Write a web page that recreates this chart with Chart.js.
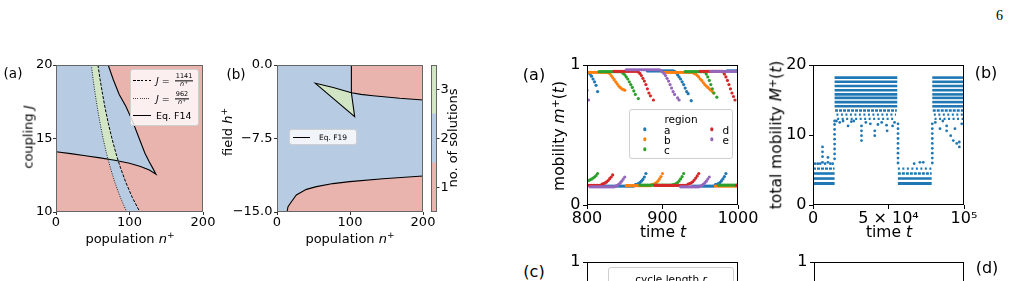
<!DOCTYPE html>
<html>
<head>
<meta charset="utf-8">
<script src="https://cdn.jsdelivr.net/npm/chart.js@4.4.1/dist/chart.umd.min.js"></script>
<style>
  html, body { margin: 0; padding: 0; }
  body { width: 1012px; height: 281px; overflow: hidden; background: #fff; position: relative;
         font-family: 'DejaVu Sans', sans-serif; color: #000; }
  canvas { position: absolute; }
  .t { position: absolute; white-space: nowrap; line-height: 1; }
  .c { transform: translate(-50%, -50%); }
  .r { transform: translate(-50%, -50%) rotate(-90deg); }
  .vm { transform: translateY(-50%); }
  sup { font-size: 0.7em; vertical-align: 0.5em; line-height: 0; }
  .leg { position: absolute; box-sizing: border-box; border: 1px solid #cfcfcf; border-radius: 3px;
         background: rgba(255,255,255,0.8); }
  .frac { display: inline-flex; flex-direction: column; align-items: center; vertical-align: middle;
          font-size: 6.5px; line-height: 1.1; margin-left: 2px; }
  .frac .num { border-bottom: 0.7px solid #000; padding: 0 1px; }
  .sw { position: absolute; height: 1px; width: 18px; }
  .dot { position: absolute; width: 3.4px; height: 3.4px; border-radius: 50%; transform: translate(-50%, -50%); }
</style>
</head>
<body>
<canvas id="cLA"></canvas>
<canvas id="cLB"></canvas>
<canvas id="cCB"></canvas>
<canvas id="cRA"></canvas>
<canvas id="cRB"></canvas>
<canvas id="cRC"></canvas>
<canvas id="cRD"></canvas>

<div class="t" style="left:996px;top:8px;font:14px 'Liberation Serif', serif">6</div>

<!-- left figure -->
<div class="t c" style="left:13px;top:74px;font-size:13.5px">(a)</div>
<div class="t c" style="left:236px;top:75px;font-size:13.5px">(b)</div>
<div class="t c" style="left:130px;top:238px;font-size:13px">population <i>n</i><sup>+</sup></div>
<div class="t r" style="left:28px;top:137px;font-size:13px">coupling <i>J</i></div>
<div class="t c" style="left:350px;top:238px;font-size:13px">population <i>n</i><sup>+</sup></div>
<div class="t r" style="left:227px;top:132px;font-size:13px">field <i>h</i><sup>+</sup></div>
<div class="t r" style="left:452px;top:138px;font-size:13px">no. of solutions</div>

<div class="leg" style="left:130px;top:69px;width:69px;height:57px">
  <div class="sw" style="left:2px;top:10px;background:repeating-linear-gradient(90deg,#000 0 2.6px,transparent 2.6px 3.9px)"></div>
  <div class="t vm" style="left:25px;top:10.5px;font-size:9.5px"><i>J</i> = <span class="frac"><span class="num">1141</span><span><i>n</i><sup>+</sup></span></span></div>
  <div class="sw" style="left:2px;top:28px;background:repeating-linear-gradient(90deg,#444 0 1px,transparent 1px 2.2px)"></div>
  <div class="t vm" style="left:25px;top:28.5px;font-size:9.5px"><i>J</i> = <span class="frac"><span class="num">962</span><span><i>n</i><sup>+</sup></span></span></div>
  <div class="sw" style="left:2px;top:45px;background:#000"></div>
  <div class="t vm" style="left:25px;top:45.5px;font-size:9.5px">Eq. F14</div>
</div>

<div class="leg" style="left:289px;top:129px;width:68px;height:16px">
  <div class="sw" style="left:3px;top:7px;width:17px;background:#000"></div>
  <div class="t vm" style="left:29px;top:7.5px;font-size:7.5px">Eq. F19</div>
</div>

<!-- right figure -->
<div class="t c" style="left:534px;top:75px;font-size:16px">(a)</div>
<div class="t c" style="left:986px;top:73px;font-size:16px">(b)</div>
<div class="t c" style="left:534px;top:272px;font-size:16px">(c)</div>
<div class="t c" style="left:987px;top:268px;font-size:16px">(d)</div>
<div class="t c" style="left:663px;top:233px;font-size:15.5px">time <i>t</i></div>
<div class="t r" style="left:560px;top:136px;font-size:15.5px">mobility <i>m</i><sup>+</sup>(<i>t</i>)</div>
<div class="t c" style="left:889px;top:233px;font-size:15.5px">time <i>t</i></div>
<div class="t r" style="left:777px;top:135px;font-size:15.5px">total mobility <i>M</i><sup>+</sup>(<i>t</i>)</div>

<div class="leg" style="left:629px;top:109px;width:104px;height:50px">
  <div class="t c" style="left:51px;top:8.5px;font-size:10.5px">region</div>
  <div class="dot" style="left:15px;top:19.3px;background:#1f77b4"></div>
  <div class="t vm" style="left:34px;top:19.5px;font-size:10.5px">a</div>
  <div class="dot" style="left:15px;top:29.3px;background:#ff7f0e"></div>
  <div class="t vm" style="left:34px;top:29.5px;font-size:10.5px">b</div>
  <div class="dot" style="left:15px;top:39.3px;background:#2ca02c"></div>
  <div class="t vm" style="left:34px;top:39.5px;font-size:10.5px">c</div>
  <div class="dot" style="left:82px;top:19.3px;background:#d62728"></div>
  <div class="t vm" style="left:92.5px;top:19.5px;font-size:10.5px">d</div>
  <div class="dot" style="left:82px;top:29.3px;background:#9467bd"></div>
  <div class="t vm" style="left:92.5px;top:29.5px;font-size:10.5px">e</div>
</div>

<div class="leg" style="left:608px;top:267px;width:126px;height:40px">
  <div class="t c" style="left:62px;top:11px;font-size:10.5px">cycle length <i>r</i></div>
</div>

<script>
// ---------- left (a): coupling J vs population n+ ----------
const f14UpperN = [71, 78, 86, 95, 104, 114, 121, 127, 132, 136];
const f14UpperJ = [20, 19, 18, 17.2, 16.2, 14.9, 14.0, 13.4, 12.95, 12.57];
const f14LowerN = [0, 20, 40, 60, 80, 100, 115, 127, 136];
const f14LowerJ = [14.1, 13.97, 13.83, 13.68, 13.52, 13.32, 13.1, 12.85, 12.57];
const dashedN = [57.05, 60.05, 63.4, 67.1, 71.3, 76.1, 81.5, 84.5, 87.8, 95.1, 103.7, 114.1];
const dashedJ = [20, 19, 18, 17, 16, 15, 14, 13.5, 13, 12, 11, 10];
const dottedN = [48.1, 50.6, 53.4, 56.6, 60.1, 64.1, 68.7, 70.7, 74.0, 80.2, 87.5, 96.2];
const dottedJ = [20, 19, 18, 17, 16, 15, 14, 13.6, 13, 12, 11, 10];
const laRangeN = [0, 200];
const laRangeJ = [10, 20];
const laTicksX = [0, 100, 200];
const laTicksY = [10, 15, 20];

// ---------- left (b): field h+ vs population n+ ----------
const f19VertN = 101.9;
const f19TopN = [101.9, 115, 131.5, 150, 168, 200];
const f19TopH = [-2.83, -3.0, -3.13, -3.27, -3.4, -3.57];
const f19BottomN = [13.7, 15.1, 19.7, 26.5, 40.3, 54, 76.7, 99.6, 145.2, 200];
const f19BottomH = [-15, -14.46, -13.95, -13.27, -12.69, -12.41, -12.1, -11.9, -11.6, -11.33];
const triUpperN = [52.6, 77, 101.9, 106.4];
const triUpperH = [-1.87, -2.3, -2.83, -5.27];
const triLowerN = [52.6, 106.4];
const triLowerH = [-1.87, -5.27];
const lbRangeN = [0, 200];
const lbRangeH = [-15, 0];
const lbTicksX = [0, 100, 200];
const lbTicksY = [-15, -7.5, 0];

// colour bar: number of solutions
const cbarBins = [[0.5, 1.5], [1.5, 2.5], [2.5, 3.5]];
const cbarTicks = [1, 2, 3];

// ---------- right (a): mobility per region ----------
const timeSteps = [800, 802, 804, 806, 808, 810, 812, 814, 816, 818, 820, 822, 824, 826, 828, 830, 832, 834, 836, 838,
  840, 842, 844, 846, 848, 850, 852, 854, 856, 858, 860, 862, 864, 866, 868, 870, 872, 874, 876, 878,
  880, 882, 884, 886, 888, 890, 892, 894, 896, 898, 900, 902, 904, 906, 908, 910, 912, 914, 916, 918,
  920, 922, 924, 926, 928, 930, 932, 934, 936, 938, 940, 942, 944, 946, 948, 950, 952, 954, 956, 958,
  960, 962, 964, 966, 968, 970, 972, 974, 976, 978, 980, 982, 984, 986, 988, 990, 992, 994, 996, 998, 1000];
const mobA = [0.95, 0.945, 0.935, 0.92, 0.9, 0.88, 0.855, 0.81,
  0.135, 0.135, 0.135, 0.135, 0.135, 0.135, 0.135, 0.135,
  0.135, 0.135, 0.135, 0.135, 0.135, 0.135, 0.135, 0.135,
  0.135, 0.135, 0.135, 0.135, 0.135, 0.135, 0.135, 0.135,
  0.145, 0.148, 0.153, 0.16, 0.17, 0.183, 0.2, 0.225,
  0.958, 0.958, 0.958, 0.958, 0.958, 0.958, 0.958, 0.958, 0.958,
  0.958, 0.958, 0.958, 0.958, 0.958, 0.958, 0.958, 0.958, 0.958,
  0.955, 0.945, 0.93, 0.915, 0.9, 0.88, 0.86, 0.835, 0.81, 0.795, null, 0.745,
  0.135, 0.135, 0.135, 0.135, 0.135, 0.135, 0.135, 0.135,
  0.135, 0.135, 0.135, 0.135, 0.135, 0.135, 0.135,
  0.145, 0.148, 0.153, 0.16, 0.172, 0.186, 0.203, 0.225,
  0.958, 0.958, 0.958, 0.958, 0.958, 0.958, 0.958, 0.958];
const mobB = [0.948, 0.948, 0.948, 0.948, 0.948, 0.948, 0.948,
  0.948, 0.948, 0.948, 0.948, 0.948, 0.948, 0.948,
  0.945, 0.94, 0.925, 0.91, 0.895, 0.88, 0.865, 0.85, 0.84, 0.83, 0.825, 0.82,
  0.138, 0.138, 0.138, 0.138, 0.138, 0.138, 0.138, 0.138, 0.138,
  0.138, 0.138, 0.138, 0.138, 0.138, 0.138, 0.138, 0.138,
  0.145, 0.148, 0.153, 0.16, 0.172, 0.186, 0.203, 0.225,
  0.948, 0.948, 0.948, 0.948, 0.948, 0.948, 0.948, 0.948, 0.948, 0.948,
  0.948, 0.948, 0.948, 0.948, 0.948, 0.948, 0.948, 0.948, 0.948,
  0.945, 0.94, 0.935, 0.925, 0.915, 0.9, 0.89, 0.875, 0.86, 0.85, 0.84, 0.83, 0.82, 0.81, 0.8,
  0.135, 0.135, 0.135, 0.135, 0.135, 0.135, 0.135, 0.135,
  0.135, 0.135, 0.135, 0.135, 0.135, 0.135, 0.135, 0.135];
const mobC = [0.17, 0.175, 0.18, 0.185, 0.192, 0.2, 0.21, 0.225,
  0.952, 0.952, 0.952, 0.952, 0.952, 0.952, 0.952, 0.952,
  0.952, 0.952, 0.952, 0.952, 0.952, 0.952, 0.952,
  0.95, 0.94, 0.93, 0.915, 0.9, 0.88, 0.86, 0.84, 0.815, 0.79, null, 0.76,
  0.142, 0.142, 0.142, 0.142, 0.142, 0.142, 0.142, 0.142, 0.142, 0.142, 0.142,
  0.142, 0.142, 0.142, 0.142, 0.142, 0.142, 0.142, 0.142, 0.142, 0.142, 0.142,
  0.145, 0.148, 0.153, 0.16, 0.172, 0.186, 0.203, 0.225,
  0.952, 0.952, 0.952, 0.952, 0.952, 0.952, 0.952,
  0.952, 0.952, 0.952, 0.952, 0.952, 0.952,
  0.95, 0.935, 0.915, 0.89, 0.86, 0.83, 0.8, null, 0.77,
  0.142, 0.142, 0.142, 0.142, 0.142, 0.142, 0.142,
  0.142, 0.142, 0.142, 0.142, 0.142, 0.142, 0.142];
const mobD = [0.14, 0.14, 0.14, 0.14, 0.14, 0.14, 0.14, 0.14, 0.14, 0.14,
  0.15, 0.153, 0.158, 0.165, 0.175, 0.188, 0.2, 0.215,
  0.955, 0.955, 0.955, 0.955, 0.955, 0.955, 0.955, 0.955,
  0.955, 0.955, 0.955, 0.955, 0.955, 0.955, 0.955, 0.955,
  0.95, 0.94, 0.925, 0.905, 0.885, 0.86, 0.83, 0.8, 0.78, null, 0.75,
  0.14, 0.14, 0.14, 0.14, 0.14, 0.14, 0.14, 0.14, 0.14, 0.14, 0.14,
  0.14, 0.14, 0.14, 0.14, 0.14, 0.14, 0.14, 0.14, 0.14, 0.14, 0.14,
  0.15, 0.153, 0.158, 0.166, 0.178, 0.192, 0.208, 0.225,
  0.955, 0.955, 0.955, 0.955, 0.955, 0.955, 0.955, 0.955,
  0.955, 0.955, 0.955, 0.955, 0.955, 0.955, 0.955,
  0.95, 0.935, 0.915, 0.89, 0.86, 0.83, 0.8, 0.775, 0.75,
  0.14, 0.14];
const mobE = [0.82, 0.75,
  0.13, 0.13, 0.13, 0.13, 0.13, 0.13, 0.13, 0.13, 0.13,
  0.13, 0.13, 0.13, 0.13, 0.13, 0.13, 0.13, 0.13,
  0.135, 0.14, 0.148, 0.158, 0.17, 0.185, 0.2,
  0.966, 0.966, 0.966, 0.966, 0.966, 0.966, 0.966, 0.966,
  0.966, 0.966, 0.966, 0.966, 0.966, 0.966, 0.966, 0.966,
  0.966, 0.966, 0.966, 0.966, 0.966, 0.966, 0.966,
  0.96, 0.95, 0.94, 0.925, 0.905, 0.885, 0.86, 0.835, 0.81, 0.79, null, 0.765, 0.75,
  0.13, 0.13, 0.13, 0.13, 0.13, 0.13, 0.13,
  0.13, 0.13, 0.13, 0.13, 0.13, 0.13,
  0.135, 0.14, 0.148, 0.158, 0.17, 0.185, 0.2,
  0.955, 0.955, 0.955, 0.955, 0.955, 0.955, 0.955, 0.955, 0.955, 0.955,
  0.955, 0.955, 0.955, 0.955, 0.955, 0.955, 0.955, 0.955, 0.955];
const regionNames = ['a', 'b', 'c', 'd', 'e'];
const raTicksX = [800, 900, 1000];
const raTicksY = [0, 1];

// ---------- right (b): total mobility ----------
const stripeM = [18.2, 17.6, 17.0, 16.4, 15.8, 15.3, 14.7, 14.1, 13.5, 12.9, 12.3,
  18.2, 17.6, 17.0, 16.4, 15.8, 15.3, 14.7, 14.1, 13.5, 12.9, 12.3,
  3.07, 3.78, 4.5, 5.2,
  3.07, 3.78, 4.5, 5.2];
const stripeFrom = [14300, 14300, 14300, 14300, 14300, 14300, 14300, 14300, 14600, 15500, 16000,
  79000, 79000, 79000, 79000, 79000, 79000, 79000, 79000, 79300, 80000, 80500,
  0, 0, 0, 0,
  56200, 56200, 56200, 56200];
const stripeTo = [55800, 55800, 55800, 55800, 55800, 55800, 55800, 55800, 55500, 55000, 54500,
  100000, 100000, 100000, 100000, 100000, 100000, 100000, 100000, 100000, 100000, 100000,
  14300, 14300, 14300, 14300,
  78600, 78600, 78600, 78600];
const stripeKind = ['dense', 'dense', 'dense', 'dense', 'dense', 'dense', 'dense', 'dense', 'mid', 'sparse', 'sparse',
  'dense', 'dense', 'dense', 'dense', 'dense', 'dense', 'dense', 'dense', 'mid', 'sparse', 'sparse',
  'solid', 'dense', 'dense', 'mid',
  'solid', 'dense', 'mid', 'sparse'];
const outT = [1500, 3200, 4800, 6300, 6300, 6300, 6300, 8000, 9900, 9900, 11500, 13000,
  14300, 14300, 14300, 14300, 14300, 14300, 14300, 14300, 14300,
  15500, 17700, 19900, 23200, 25400, 27000, 32100, 32100, 32100, 32100, 35000, 38000, 40900, 40900, 43000, 45500, 48700, 49100, 52700, 54000,
  56300, 56300, 56300, 56300, 56300, 56300, 56300, 56300, 56300,
  67000, 70800, 73000,
  79000, 79000, 79000, 79000, 79000, 79000, 79000, 79000, 79000,
  81000, 84100, 86000, 88500, 88500, 91200, 92900, 94000, 95200, 96900, 96900, 98500];
const outM = [5.9, 5.9, 5.9, 6.1, 6.9, 7.6, 8.3, 5.9, 6.1, 6.8, 5.9, 5.9,
  6.6, 7.3, 8.0, 8.7, 9.4, 10.1, 10.8, 11.5, 12.0,
  12.0, 11.8, 12.0, 11.3, 11.9, 12.0, 11.3, 10.6, 9.9, 9.2, 11.8, 11.6, 10.6, 9.9, 11.5, 11.8, 11.4, 10.6, 11.3, 11.8,
  11.6, 10.9, 10.2, 9.5, 8.8, 8.1, 7.4, 6.7, 6.0,
  5.9, 6.1, 6.1,
  6.0, 6.7, 7.4, 8.1, 8.8, 9.5, 10.2, 10.9, 11.6,
  11.8, 10.9, 12.0, 11.3, 10.6, 9.9, 9.2, 10.9, 8.8, 8.3, 9.0, 11.6];
const rbTicksX = [0, 50000, 100000];
const rbTickLabelsX = ['0', '5 × 10⁴', '10⁵'];
const rbTicksY = [0, 10, 20];

// ---------- styling ----------
const RED = '#e9b3ae', BLUE = '#b7cce2', GREEN = '#d2e6c5';
const TAB = ['#1f77b4', '#ff7f0e', '#2ca02c', '#d62728', '#9467bd'];
const STRIPE = {
  solid: { w: 3, dash: [] },
  dense: { w: 2.6, dash: [] },
  mid: { w: 2.4, dash: [3, 1] },
  sparse: { w: 2.2, dash: [2, 2.5] }
};

Chart.defaults.font.family = "'DejaVu Sans', sans-serif";
Chart.defaults.color = '#000';

const framePlugin = {
  id: 'frame',
  afterDatasetsDraw(chart, args, opts) {
    const a = chart.chartArea, ctx = chart.ctx;
    ctx.save();
    ctx.strokeStyle = opts.color || '#000';
    ctx.lineWidth = 1;
    ctx.strokeRect(a.left + 0.5, a.top + 0.5, a.right - a.left - 1, a.bottom - a.top - 1);
    ctx.restore();
  }
};

function pts(xs, ys) { return xs.map((x, i) => ({ x, y: ys[i] })); }

function place(id, g) {
  const c = document.getElementById(id);
  const left = g.yRight ? g.L : g.L - g.yW;
  c.width = g.yRight ? g.W + g.yW : g.yW + g.W + g.padR;
  c.height = g.padT + g.H + g.xH + g.padB;
  c.style.left = left + 'px';
  c.style.top = (g.T - g.padT) + 'px';
  return c;
}

function axis(min, max, ticks, o) {
  return {
    type: 'linear', min, max, position: o.pos,
    afterBuildTicks: s => { s.ticks = ticks.map(v => ({ value: v })); },
    afterFit: s => { if (s.isHorizontal()) s.height = o.size; else s.width = o.size; },
    grid: { drawOnChartArea: false, drawTicks: true, tickLength: o.tl, color: o.tc || '#000', lineWidth: 1 },
    border: { display: false },
    ticks: { color: '#000', font: { size: o.fs }, padding: o.pad, maxRotation: 0, minRotation: 0,
             autoSkip: false, callback: o.fmt || (v => String(v)) }
  };
}

function baseOptions(g, scales, frameColor) {
  return {
    responsive: false, animation: false, events: [],
    layout: { padding: { top: g.padT, right: g.yRight ? 0 : g.padR, bottom: g.padB, left: 0 } },
    plugins: { legend: { display: false }, tooltip: { enabled: false }, frame: { color: frameColor } },
    elements: { point: { radius: 0 }, line: { tension: 0 } },
    scales
  };
}

function area(data, fill, color, order) {
  return { data, fill, backgroundColor: color, borderWidth: 0, pointRadius: 0, order };
}
function edge(data, order) {
  return { data, fill: false, borderWidth: 0, pointRadius: 0, order };
}
function curve(data, dash, color, width, order) {
  return { data, fill: false, borderColor: color, borderWidth: width, borderDash: dash, pointRadius: 0, order };
}

// ---------- left (a) ----------
const gLA = { L: 56, T: 65, W: 147, H: 147, yW: 40, xH: 24, padT: 12, padR: 18, padB: 0 };
new Chart(place('cLA', gLA), {
  type: 'line',
  data: { datasets: [
    area(pts(laRangeN, [laRangeJ[1], laRangeJ[1]]), 'start', RED, 20),
    area(pts([0].concat(f14UpperN), [20].concat(f14UpperJ)), 2, BLUE, 19),
    edge(pts(f14LowerN, f14LowerJ), 18),
    area(pts([dottedN[0]].concat(dashedN), [20].concat(dashedJ)), 4, BLUE, 17),
    edge(pts(dottedN.concat([dashedN[11]]), dottedJ.concat([10])), 16),
    area(pts([dottedN[0]].concat(dashedN.slice(0, 8)), [20].concat(dashedJ.slice(0, 8))), 6, GREEN, 15),
    edge(pts(dottedN.slice(0, 8).concat([dashedN[7]]), dottedJ.slice(0, 8).concat([dashedJ[7]])), 14),
    curve(pts(f14UpperN.concat(f14LowerN.slice(0, -1).reverse()),
              f14UpperJ.concat(f14LowerJ.slice(0, -1).reverse())), [], '#000', 1.1, 3),
    curve(pts(dashedN, dashedJ), [3, 1.5], '#000', 1, 2),
    curve(pts(dottedN, dottedJ), [1, 1.4], '#222', 1, 1)
  ] },
  options: baseOptions(gLA, {
    x: axis(laRangeN[0], laRangeN[1], laTicksX, { size: 24, tl: 3, pad: 0, fs: 13, tc: '#333' }),
    y: axis(laRangeJ[0], laRangeJ[1], laTicksY, { size: 40, tl: 3, pad: 0.5, fs: 13, tc: '#333' })
  }, '#666'),
  plugins: [framePlugin]
});

// ---------- left (b) ----------
const gLB = { L: 277, T: 65, W: 146, H: 147, yW: 48, xH: 24, padT: 12, padR: 16, padB: 0 };
const f19LineN = [f19VertN, f19TopN[0], triUpperN[3], triLowerN[0], triUpperN[1], triUpperN[2]].concat(f19TopN.slice(1));
const f19LineH = [0, f19TopH[0], triUpperH[3], triLowerH[0], triUpperH[1], triUpperH[2]].concat(f19TopH.slice(1));
new Chart(place('cLB', gLB), {
  type: 'line',
  data: { datasets: [
    area(pts(lbRangeN, [lbRangeH[1], lbRangeH[1]]), 'start', BLUE, 20),
    area(pts([f19VertN, lbRangeN[1]], [lbRangeH[1], lbRangeH[1]]), 2, RED, 19),
    edge(pts(f19TopN, f19TopH), 18),
    area(pts(f19BottomN, f19BottomH), 'start', RED, 17),
    area(pts(triUpperN, triUpperH), 5, GREEN, 16),
    edge(pts(triLowerN, triLowerH), 15),
    curve(pts(f19LineN, f19LineH), [], '#000', 1.1, 2),
    curve(pts(f19BottomN, f19BottomH), [], '#000', 1.1, 1)
  ] },
  options: baseOptions(gLB, {
    x: axis(lbRangeN[0], lbRangeN[1], lbTicksX, { size: 24, tl: 3, pad: 0, fs: 13, tc: '#333' }),
    y: axis(lbRangeH[0], lbRangeH[1], lbTicksY, { size: 48, tl: 3, pad: 1.5, fs: 13, tc: '#333',
      fmt: v => v.toFixed(1).replace('-', '\u2212') })
  }, '#666'),
  plugins: [framePlugin]
});

// ---------- colour bar ----------
const gCB = { L: 431, T: 65, W: 6, H: 147, yW: 24, xH: 0, padT: 12, padR: 0, padB: 12, yRight: true };
const cbOpts = baseOptions(gCB, {
  x: { display: false },
  y: axis(0.5, 3.5, cbarTicks, { pos: 'right', size: 24, tl: 2.5, pad: 1, fs: 13, tc: '#333' })
}, '#666');
new Chart(place('cCB', gCB), {
  type: 'bar',
  data: { labels: ['n'], datasets: cbarBins.map((b, i) => ({
    data: [b], backgroundColor: [RED, BLUE, GREEN][i], grouped: false,
    barPercentage: 1, categoryPercentage: 1, borderWidth: 0
  })) },
  options: cbOpts,
  plugins: [framePlugin]
});

// ---------- right (a) ----------
const gRA = { L: 587, T: 65, W: 151, H: 140, yW: 30, xH: 26, padT: 14, padR: 24, padB: 0 };
const mobSeries = [mobA, mobB, mobC, mobD, mobE];
new Chart(place('cRA', gRA), {
  type: 'line',
  data: { datasets: mobSeries.map((s, i) => ({
    label: regionNames[i], data: pts(timeSteps, s), showLine: false,
    pointRadius: 1.6, pointBorderWidth: 0, backgroundColor: TAB[i], borderColor: TAB[i], order: 5 - i
  })) },
  options: baseOptions(gRA, {
    x: axis(800, 1000, raTicksX, { size: 26, tl: 4, pad: 0, fs: 16 }),
    y: axis(0, 1, raTicksY, { size: 30, tl: 4, pad: 2.5, fs: 16 })
  }, '#000'),
  plugins: [framePlugin]
});

// ---------- right (b) ----------
const gRB = { L: 813, T: 65, W: 151, H: 140, yW: 30, xH: 26, padT: 14, padR: 24, padB: 0 };
const rbSets = stripeM.map((m, i) => ({
  data: [{ x: stripeFrom[i], y: m }, { x: stripeTo[i], y: m }],
  borderColor: TAB[0], borderWidth: STRIPE[stripeKind[i]].w, borderDash: STRIPE[stripeKind[i]].dash,
  borderCapStyle: 'butt', pointRadius: 0, fill: false, order: 2
}));
rbSets.push({ data: pts(outT, outM), showLine: false, pointRadius: 1.4, pointBorderWidth: 0,
  backgroundColor: TAB[0], borderColor: TAB[0], order: 1 });
new Chart(place('cRB', gRB), {
  type: 'line',
  data: { datasets: rbSets },
  options: baseOptions(gRB, {
    x: axis(0, 100000, rbTicksX, { size: 26, tl: 4, pad: 0, fs: 16, fmt: v => rbTickLabelsX[rbTicksX.indexOf(v)] }),
    y: axis(0, 20, rbTicksY, { size: 30, tl: 4, pad: 2.5, fs: 16 })
  }, '#000'),
  plugins: [framePlugin]
});

// ---------- right (c), (d): only their tops are in view ----------
const gRC = { L: 587, T: 262, W: 151, H: 140, yW: 30, xH: 26, padT: 14, padR: 24, padB: 0 };
const gRD = { L: 814, T: 262, W: 150, H: 140, yW: 30, xH: 26, padT: 14, padR: 24, padB: 0 };
[['cRC', gRC], ['cRD', gRD]].forEach(([id, g]) => {
  new Chart(place(id, g), {
    type: 'line',
    data: { datasets: [] },
    options: baseOptions(g, {
      x: axis(0, 1, [0, 1], { size: 26, tl: 4, pad: 0, fs: 16 }),
      y: axis(0, 1, [0, 1], { size: 30, tl: 4, pad: 2.5, fs: 16 })
    }, '#000'),
    plugins: [framePlugin]
  });
});
</script>
</body>
</html>
